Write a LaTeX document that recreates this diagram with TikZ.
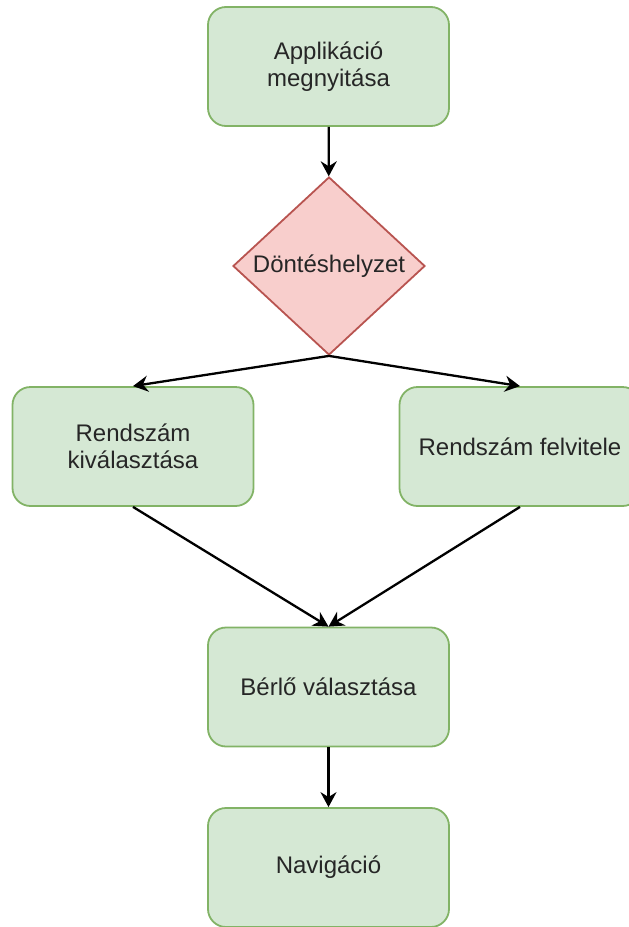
\documentclass[tikz,border=0pt]{standalone}
\usepackage{fontspec}
\setmainfont{Liberation Sans}
\usetikzlibrary{shapes.geometric,arrows.meta}
\definecolor{boxfill}{HTML}{D5E8D4}
\definecolor{boxline}{HTML}{82B366}
\definecolor{decfill}{HTML}{F8CECC}
\definecolor{decline}{HTML}{B85450}

\begin{document}
\begin{tikzpicture}[x=1pt,y=-1pt,
  stepbox/.style={draw=boxline,fill=boxfill,line width=1.8pt,rounded corners=18pt,
    minimum width=241pt,minimum height=119pt,align=center,text=black!85,
    font=\fontsize{24}{27}\selectfont},
  choice/.style={draw=decline,fill=decfill,line width=1.8pt,diamond,inner sep=0pt,
    minimum width=192pt,minimum height=178pt,text=black!85,font=\fontsize{24}{27}\selectfont},
  flow/.style={line width=2.3pt,-{Stealth[length=15pt,width=16pt,inset=5pt]}}]
\useasboundingbox (0,0) rectangle (629,927);
\node[stepbox] (open)   at (328.5,66.5)  {Applikáció\\megnyitása};
\node[choice]  (decide) at (329,266)     {\makebox[0pt]{Döntéshelyzet}};
\node[stepbox] (pick)   at (133,446.5)   {Rendszám\\kiválasztása};
\node[stepbox] (add)    at (520,446.5)   {Rendszám felvitele};
\node[stepbox] (renter) at (328.5,687)   {Bérlő választása};
\node[stepbox] (nav)    at (328.5,867.5) {Navigáció};

\draw[flow] (open) -- (decide);
\draw[flow] (decide.south) -- (pick.north);
\draw[flow] (decide.south) -- (add.north);
\draw[flow] (pick.south) -- (renter.north);
\draw[flow] (add.south) -- (renter.north);
\draw[flow] (renter) -- (nav);
\end{tikzpicture}
\end{document}
